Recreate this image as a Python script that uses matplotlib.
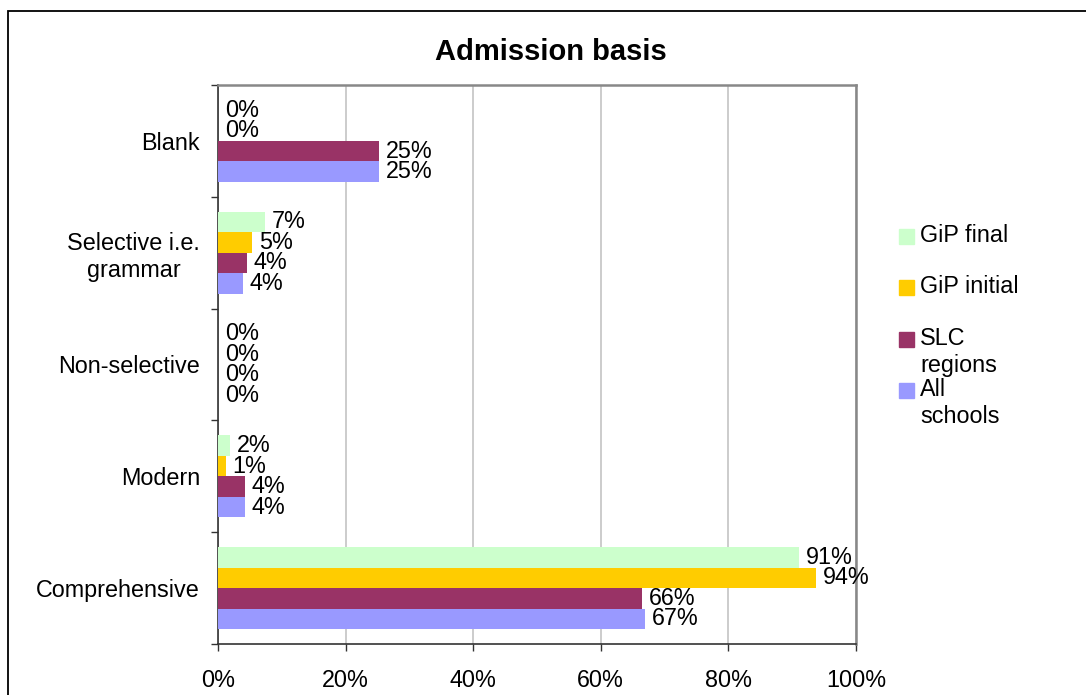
import matplotlib
matplotlib.use('Agg')
import matplotlib.pyplot as plt
from matplotlib.patches import Rectangle
import numpy as np

plt.rcParams['font.family'] = ['Liberation Sans', 'DejaVu Sans']

# categories, bottom to top as drawn
categories = ['Comprehensive', 'Modern', 'Non-selective', 'Selective i.e.\ngrammar', 'Blank']
series_names = ['GiP final', 'GiP initial', 'SLC regions', 'All schools']
legend_labels = ['GiP final', 'GiP initial', 'SLC\nregions', 'All\nschools']
colors = ['#CCFFCC', '#FFCC00', '#993366', '#9999FF']

gip_final = [0.91, 0.019, 0.0, 0.074, 0.0]
gip_initial = [0.937, 0.012, 0.0, 0.053, 0.0]
slc_regions = [0.665, 0.042, 0.0, 0.045, 0.252]
all_schools = [0.669, 0.042, 0.0, 0.039, 0.252]
series = [gip_final, gip_initial, slc_regions, all_schools]

x_ticks = [0, 0.2, 0.4, 0.6, 0.8, 1.0]
x_ticklabels = ['0%', '20%', '40%', '60%', '80%', '100%']

FS = 16.8

fig = plt.figure(figsize=(10.86, 6.95), dpi=100)
ax = fig.add_axes([0.2007, 0.0734, 0.5875, 0.8043])

y = np.arange(len(categories))
h = 0.184
offsets = [1.5 * h, 0.5 * h, -0.5 * h, -1.5 * h]
for vals, col, off in zip(series, colors, offsets):
    bars = ax.barh(y + off, vals, height=h, color=col, zorder=3)
    for b, v in zip(bars, vals):
        ax.annotate('%d%%' % round(v * 100), (b.get_width(), b.get_y() + h / 2),
                    xytext=(5, 0), textcoords='offset points',
                    ha='left', va='center', fontsize=FS, zorder=4)

ax.set_xlim(0, 1)
ax.set_ylim(-0.5, len(categories) - 0.5)

ax.set_xticks(x_ticks)
ax.set_xticklabels(x_ticklabels, fontsize=FS)
ax.tick_params(axis='x', direction='out', length=5, width=1, color='#333333', pad=13)

ax.set_yticks(np.arange(-0.5, len(categories), 1.0))
ax.set_yticklabels([])
ax.tick_params(axis='y', which='major', direction='out', length=5, width=1, color='#333333')
ax.set_yticks(y, minor=True)
ax.set_yticklabels(categories, minor=True, fontsize=FS)
ax.tick_params(axis='y', which='minor', length=0, pad=13)
for lab in ax.get_yticklabels(minor=True):
    lab.set_multialignment('center')

ax.grid(axis='x', color='#C8C8C8', lw=1.3, zorder=0)
ax.set_axisbelow(True)
for s in ['left', 'bottom']:
    ax.spines[s].set_color('#333333')
    ax.spines[s].set_linewidth(1.2)
for s in ['top', 'right']:
    ax.spines[s].set_color('#888888')
    ax.spines[s].set_linewidth(1.8)

fig.text(0.507, 0.925, 'Admission basis', ha='center', va='center',
         fontsize=21, fontweight='bold')

# legend drawn by hand so the key lines up with the first text line
W, H = 1086.0, 695.0
for i, (lab, col) in enumerate(zip(legend_labels, colors)):
    base = 242 + i * 51.3
    fig.add_artist(Rectangle((899 / W, 1 - (base + 2) / H), 15 / W, 15 / H,
                             transform=fig.transFigure, color=col))
    fig.text(920 / W, 1 - (base - 18) / H, lab, ha='left', va='top',
             fontsize=FS, linespacing=1.25)

# outer chart border
fig.add_artist(Rectangle((7.5 / W, -0.1), 1.2, 1.1 - 10.5 / H,
                         transform=fig.transFigure, fill=False,
                         edgecolor='black', lw=1.3, clip_on=False))

fig.savefig('out.png', dpi=100)
